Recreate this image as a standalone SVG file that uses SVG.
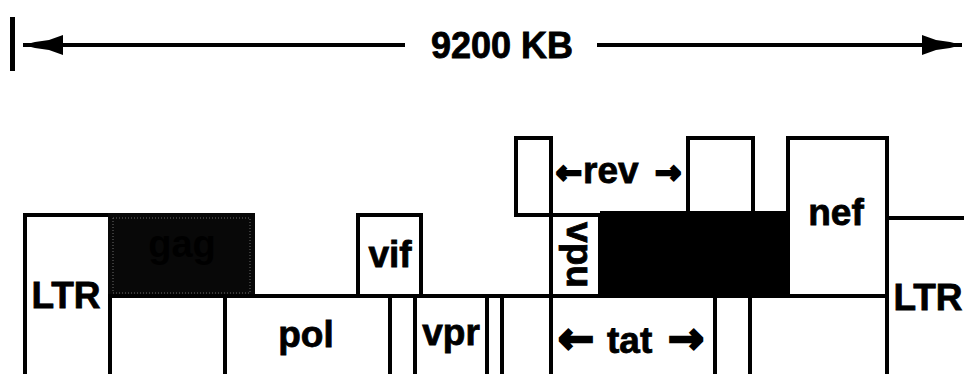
<svg xmlns="http://www.w3.org/2000/svg" width="964" height="374" viewBox="0 0 964 374">
  <style>
    .box { fill: #ffffff; stroke: #000000; stroke-width: 4; }
    .ln { fill: none; stroke: #000000; stroke-width: 4; }
    .lbl { font-family: "Liberation Sans", Arial, Helvetica, sans-serif; font-weight: bold; font-size: 37px; fill: #000000; stroke: #000000; stroke-width: 0.8; text-anchor: middle; }
    .arr { font-family: "DejaVu Sans", "Liberation Sans", sans-serif; font-weight: bold; stroke-width: 2.6; stroke-linejoin: miter; }
  </style>
  <defs>
    <marker id="head" viewBox="-41 -11 42 22" refX="0" refY="0" markerWidth="42" markerHeight="22" markerUnits="userSpaceOnUse" orient="auto-start-reverse">
      <path d="M0,0 L-12,-3 L-26,-5 L-40,-10 L-40,10 L-26,5 L-12,3 Z" fill="#000000"/>
    </marker>
    <pattern id="stip" width="2" height="2" patternUnits="userSpaceOnUse">
      <rect width="2" height="2" fill="#151515"/>
      <rect width="1" height="1" fill="#8a8a8a"/>
    </pattern>
  </defs>
  <rect width="964" height="374" fill="#ffffff"/>

  <g id="scale">
    <rect x="10" y="17" width="5" height="54" fill="#000000"/>
    <text class="lbl" x="502" y="58" style="font-size:36px">9200 KB</text>
  </g>

  <g id="connectors">
    <line x1="23" y1="45" x2="405" y2="45" class="ln" marker-start="url(#head)"/>
    <line x1="597" y1="45" x2="962" y2="45" class="ln" marker-end="url(#head)"/>
    <line x1="110" y1="296" x2="887" y2="296" class="ln"/>
    <line x1="887" y1="218" x2="964" y2="218" class="ln"/>
    <line x1="887" y1="138" x2="887" y2="380" class="ln"/>
    <line x1="551" y1="138" x2="551" y2="380" class="ln"/>
  </g>

  <g id="ltr-left">
    <rect class="box" x="25" y="215" width="85" height="175"/>
    <text class="lbl" x="66" y="308">LTR</text>
  </g>

  <g id="gag">
    <rect x="108" y="213" width="147" height="85" fill="#080808"/>
    <rect x="113" y="218" width="137" height="75" fill="none" stroke="#6a6a6a" stroke-width="1" stroke-dasharray="1 2"/>
    <text class="lbl" x="182" y="257" style="font-size:38px; stroke:none" fill="url(#stip)">gag</text>
  </g>

  <g id="gag-lower">
    <rect class="box" x="110" y="296" width="115" height="90"/>
  </g>

  <g id="pol">
    <rect class="box" x="225" y="296" width="165" height="90"/>
    <text class="lbl" x="306" y="347">pol</text>
  </g>

  <g id="vif">
    <rect class="box" x="358" y="215" width="63" height="81"/>
    <text class="lbl" x="390" y="267">vif</text>
  </g>

  <g id="orf-a">
    <rect class="box" x="390" y="296" width="25" height="90"/>
  </g>

  <g id="vpr">
    <rect class="box" x="415" y="296" width="72" height="90"/>
    <text class="lbl" x="451" y="345">vpr</text>
  </g>

  <g id="orf-b">
    <rect class="box" x="487" y="296" width="15" height="90"/>
    <rect class="box" x="502" y="296" width="49" height="90"/>
  </g>

  <g id="rev-exon1">
    <rect class="box" x="516" y="138" width="35" height="77"/>
  </g>

  <g id="vpu">
    <rect class="box" x="551" y="215" width="49" height="81"/>
    <text class="lbl" transform="translate(577,255) rotate(90)" x="0" y="10">vpu</text>
  </g>

  <g id="env">
    <rect x="600" y="211" width="189" height="87" fill="#000000"/>
  </g>

  <g id="rev">
    <text class="lbl" y="183" style="text-anchor:start"><tspan class="arr" x="556" style="font-size:31px">←</tspan><tspan x="583">rev</tspan><tspan class="arr" x="655" style="font-size:31px">→</tspan></text>
  </g>

  <g id="rev-exon2">
    <rect class="box" x="688" y="138" width="65" height="75"/>
  </g>

  <g id="tat">
    <rect class="box" x="551" y="296" width="164" height="90"/>
    <text class="lbl" y="353" style="text-anchor:start"><tspan class="arr" x="558" style="font-size:43px">←</tspan><tspan x="607">tat</tspan><tspan class="arr" x="668" style="font-size:43px">→</tspan></text>
  </g>

  <g id="tat-exon2">
    <rect class="box" x="715" y="296" width="35" height="90"/>
  </g>

  <g id="env-lower">
    <rect class="box" x="750" y="296" width="137" height="90"/>
  </g>

  <g id="nef">
    <rect class="box" x="788" y="138" width="99" height="158"/>
    <text class="lbl" x="836" y="225">nef</text>
  </g>

  <g id="ltr-right">
    <text class="lbl" x="928" y="310">LTR</text>
  </g>
</svg>
